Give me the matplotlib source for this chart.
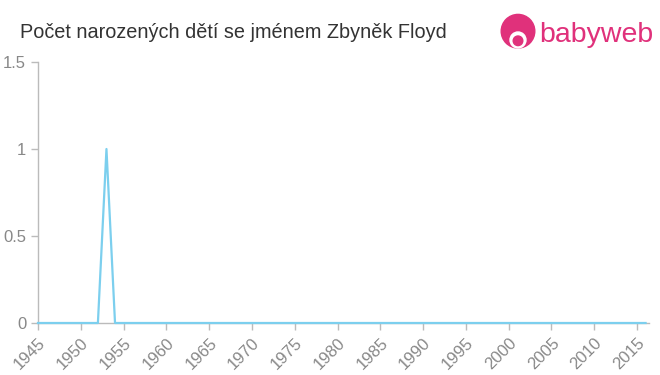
import matplotlib
matplotlib.use("Agg")
import matplotlib.pyplot as plt
from matplotlib.patches import Circle

plt.rcParams["font.family"] = ["Liberation Sans", "DejaVu Sans"]

# births per year, 1945-2016
years = list(range(1945, 2017))
counts = [0, 0, 0, 0, 0, 0, 0, 0, 1, 0,
          0, 0, 0, 0, 0, 0, 0, 0, 0, 0,
          0, 0, 0, 0, 0, 0, 0, 0, 0, 0,
          0, 0, 0, 0, 0, 0, 0, 0, 0, 0,
          0, 0, 0, 0, 0, 0, 0, 0, 0, 0,
          0, 0, 0, 0, 0, 0, 0, 0, 0, 0,
          0, 0, 0, 0, 0, 0, 0, 0, 0, 0,
          0, 0]
x_ticks = list(range(1945, 2016, 5))
y_ticks = [0, 0.5, 1, 1.5]
y_labels = ["0", "0.5", "1", "1.5"]

title = "Počet narozených dětí se jménem Zbyněk Floyd"

fig = plt.figure(figsize=(6.6, 3.75), dpi=100)
ax = fig.add_axes((38 / 660, 1 - 323 / 375, (649 - 38) / 660, (323 - 62) / 375))

ax.plot(years, counts, color="#7ccfee", lw=1.6, clip_on=False, zorder=3)

ax.set_xlim(1945, 2016.4)
ax.set_ylim(0, 1.5)
ax.set_xticks(x_ticks)
ax.set_xticklabels([str(y) for y in x_ticks], rotation=45, ha="right",
                   rotation_mode="anchor")
ax.set_yticks(y_ticks)
ax.set_yticklabels(y_labels)
ax.tick_params(colors="#bbbbbb", labelcolor="#888888", labelsize=12,
               length=5, width=1)
for side in ("top", "right"):
    ax.spines[side].set_visible(False)
for side in ("left", "bottom"):
    ax.spines[side].set_color("#bbbbbb")
    ax.spines[side].set_linewidth(1)

fig.text(20 / 660, 1 - 32 / 375, title, ha="left", va="center",
         fontsize=14.3, color="#333333")

# babyweb logo
pink = "#e0317b"
logo = fig.add_axes((498 / 660, 1 - 52 / 375, 40 / 660, 40 / 375))
logo.set_xlim(0, 1)
logo.set_ylim(0, 1)
logo.set_aspect("equal")
logo.axis("off")
logo.add_patch(Circle((0.5, 0.52), 0.42, color=pink))
logo.add_patch(Circle((0.5, 0.3), 0.2, color="white"))
logo.add_patch(Circle((0.5, 0.28), 0.12, color=pink))
fig.text(539 / 660, 1 - 35 / 375, "babyweb", ha="left", va="center",
         fontsize=20.5, color=pink)

fig.savefig("out.png", dpi=100)
